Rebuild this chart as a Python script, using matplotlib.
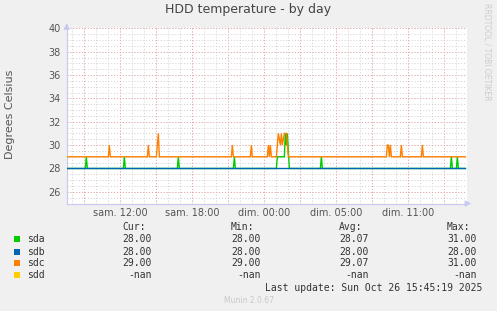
import matplotlib
matplotlib.use("Agg")
import matplotlib.pyplot as plt
import numpy as np

# ---- data (hours since Saturday 00:00) ----
sda_t = [7.583, 9.083, 9.167, 9.25, 12.25, 12.333, 12.417, 16.75, 16.833, 16.917,
         21.417, 21.5, 21.583, 25.0, 25.083, 25.667, 25.75, 25.833, 25.917, 26.083,
         28.667, 28.75, 28.833, 39.5, 39.583, 39.667, 40.0, 40.083, 40.167, 40.75]
sda_v = [28, 28, 29, 28, 28, 29, 28, 28, 29, 28,
         28, 29, 28, 28, 29, 29, 31, 30, 31, 28,
         28, 29, 28, 28, 29, 28, 28, 29, 28, 28]

sdb_t = [7.583, 40.75]
sdb_v = [28, 28]

sdc_t = [7.583, 11.0, 11.083, 11.167, 14.25, 14.333, 14.417, 15.0, 15.083, 15.167, 15.25,
         21.25, 21.333, 21.417, 22.833, 22.917, 23.0,
         24.25, 24.333, 24.417, 24.5, 24.583,
         25.0, 25.083, 25.167, 25.333, 25.417, 25.5, 25.667, 25.833, 26.0,
         34.167, 34.25, 34.333, 34.417, 34.5, 34.583,
         35.333, 35.417, 35.5, 37.083, 37.167, 37.25, 40.75]
sdc_v = [29, 29, 30, 29, 29, 30, 29, 29, 30, 31, 29,
         29, 30, 29, 29, 30, 29,
         29, 30, 29, 30, 29,
         29, 30, 31, 30, 31, 30, 31, 31, 29,
         29, 30, 30, 29, 30, 29,
         29, 30, 29, 29, 30, 29, 29]

sdd_t = []
sdd_v = []

series_names = ["sda", "sdb", "sdc", "sdd"]
series_colors = ["#00CC00", "#0066B3", "#FF8000", "#FFCC00"]
cur_vals = ["28.00", "28.00", "29.00", "-nan"]
min_vals = ["28.00", "28.00", "29.00", "-nan"]
avg_vals = ["28.07", "28.00", "29.07", "-nan"]
max_vals = ["31.00", "28.00", "31.00", "-nan"]

xtick_hours = [12, 18, 24, 30, 36]
xtick_labels = ["sam. 12:00", "sam. 18:00", "dim. 00:00", "dim. 05:00", "dim. 11:00"]
ytick_vals = [26, 28, 30, 32, 34, 36, 38, 40]

# ---- figure ----
W, H = 497, 311
fig = plt.figure(figsize=(W / 100, H / 100), dpi=100)
fig.patch.set_facecolor("#F0F0F0")

left_px, right_px, top_px, bot_px = 66.7, 466.7, 28.3, 203.5
ax = fig.add_axes([left_px / W, 1 - bot_px / H, (right_px - left_px) / W, (bot_px - top_px) / H])
ax.set_facecolor("white")
ax.set_xlim(7.53, 40.86)
ax.set_ylim(25, 40)

# grid
minor_style = dict(color="#CFCFCF", lw=0.7, linestyle=(0, (1, 2)), zorder=1)
major_style = dict(color="#EFA3A3", lw=0.7, linestyle=(0, (1, 2)), zorder=1.5)
for h in np.arange(8, 41, 1):
    ax.axvline(h, **minor_style)
for y in np.arange(25.5, 40.01, 0.5):
    ax.axhline(y, **minor_style)
for h in np.arange(9, 40, 3):
    ax.axvline(h, **major_style)
for y in ytick_vals:
    ax.axhline(y, **major_style)

# lines
for t, v, c in [(sda_t, sda_v, series_colors[0]), (sdb_t, sdb_v, series_colors[1]),
                (sdc_t, sdc_v, series_colors[2]), (sdd_t, sdd_v, series_colors[3])]:
    if len(t):
        ax.plot(t, v, color=c, lw=1.0, zorder=3, solid_joinstyle="miter")

# axes styling
for s in ["top", "right"]:
    ax.spines[s].set_visible(False)
for s in ["left", "bottom"]:
    ax.spines[s].set_color("#C8C8F0")
    ax.spines[s].set_linewidth(0.8)
ax.set_xticks(xtick_hours)
ax.set_xticklabels(xtick_labels)
ax.set_yticks(ytick_vals)
ax.set_yticklabels([str(v) for v in ytick_vals])
ax.tick_params(axis="both", length=0, labelsize=7, labelcolor="#555555")
ax.tick_params(axis="y", pad=4.5)
ax.tick_params(axis="x", pad=3.5)

# axis arrows
ax.annotate("", xy=(0, 1.045), xytext=(0, 0.99), xycoords="axes fraction",
            arrowprops=dict(arrowstyle="-|>,head_width=0.18,head_length=0.35",
                            color="#C8C8F0", lw=0.8), annotation_clip=False)
ax.annotate("", xy=(1.018, 0), xytext=(0.99, 0), xycoords="axes fraction",
            arrowprops=dict(arrowstyle="-|>,head_width=0.18,head_length=0.35",
                            color="#C8C8F0", lw=0.8), annotation_clip=False)

def px(x, y):
    return x / W, 1 - y / H

# title & labels
fig.text(*px(248.5, 10), "HDD temperature - by day", ha="center", va="center",
         fontsize=9, color="#444444")
fig.text(*px(10, 114), "Degrees Celsius", rotation=90, ha="center", va="center",
         fontsize=8, color="#555555")
fig.text(*px(487, 52), "RRDTOOL / TOBI OETIKER", rotation=270, ha="center", va="center",
         fontsize=5.5, color="#CCCCCC")

# legend table
mono = dict(family="DejaVu Sans Mono", fontsize=7, color="#333333", va="center")
headers = ["Cur:", "Min:", "Avg:", "Max:"]
header_x = [122.3, 231.0, 339.3, 446.7]
col_right = [151.7, 260.7, 368.7, 476.7]
for hx, htxt in zip(header_x, headers):
    fig.text(*px(hx, 227.3), htxt, ha="left", **mono)
row_y = [239.3, 251.7, 263.3, 275.3]
for i, name in enumerate(series_names):
    y = row_y[i]
    fig.patches.append(plt.Rectangle(px(14, y + 3), 6 / W, 6 / H, transform=fig.transFigure,
                                     facecolor=series_colors[i], edgecolor="none"))
    fig.text(*px(26.7, y), name, ha="left", **mono)
    for cx, vals in zip(col_right, [cur_vals, min_vals, avg_vals, max_vals]):
        fig.text(*px(cx, y), vals[i], ha="right", **mono)
fig.text(*px(482.3, 287.7), "Last update: Sun Oct 26 15:45:19 2025", ha="right", **mono)
fig.text(*px(248.5, 300.7), "Munin 2.0.67", ha="center", va="center", fontsize=5.5,
         color="#C8C8C8")

fig.savefig("out.png", dpi=100, facecolor=fig.get_facecolor())
